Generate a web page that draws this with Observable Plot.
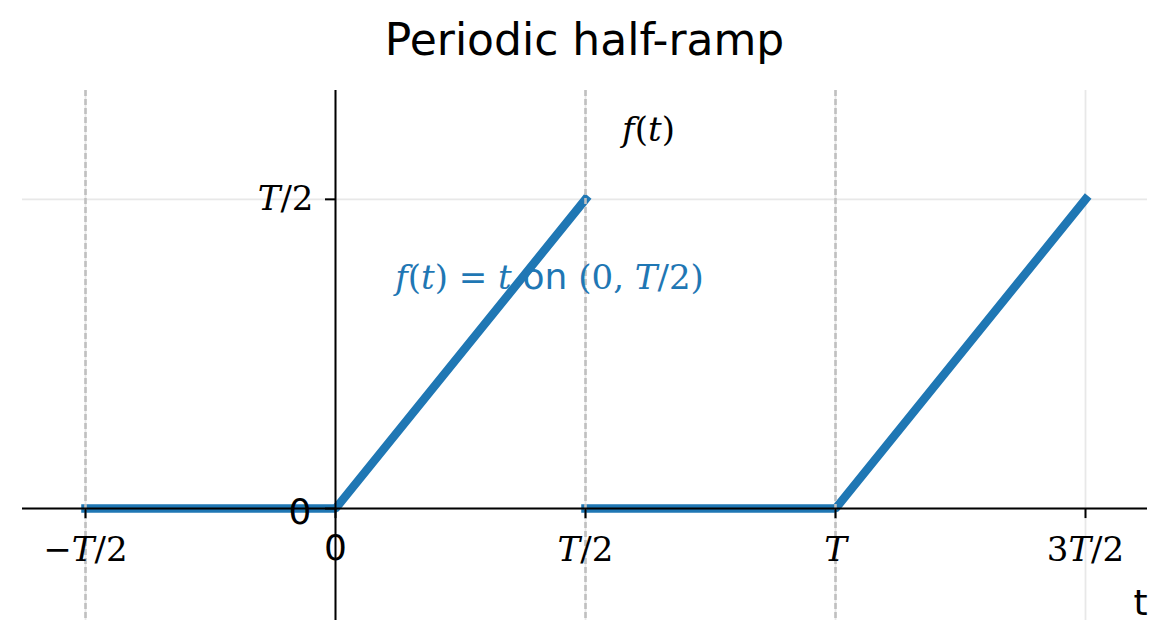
<!DOCTYPE html>
<html><head><meta charset="utf-8">
<script src="https://cdn.jsdelivr.net/npm/d3@7"></script>
<script src="https://cdn.jsdelivr.net/npm/@observablehq/plot@0.6"></script>
<style>
body{margin:0;background:#fff;}
#title{width:1169px;height:80px;line-height:80px;text-align:center;font-family:"DejaVu Sans";font-size:44px;color:#000;}
#chart svg{display:block;}
</style></head><body>
<div id="title">Periodic half-ramp</div>
<div id="chart"></div>
<script>
// Waveform vertices (t in units of T, f in units of T)
const lineT = [-0.5, 0, 0.5, 0.5, 1, 1.5];
const lineF = [0, 0, 0.5, 0, 0, 0.5];
const lineSeg = [0, 0, 0, 1, 1, 1];

const xTicks = [-0.5, 0, 0.5, 1, 1.5];
const xTickLabels = ["−T/2", "0", "T/2", "T", "3T/2"];
const yTicks = [0, 0.5];
const yTickLabels = ["0", "T/2"];
const dashedT = [-0.5, 0.5, 1];

const annoText = ["f(t)", "f(t) = t on (0, T/2)"];
const annoT = [0.626, 0.428];
const annoF = [0.612, 0.372];
const annoColor = ["#000000", "#1f77b4"];

const blue = "#1f77b4";
const lineData = lineT.map((t, i) => ({t, f: lineF[i], seg: lineSeg[i]}));
const xLab = xTicks.map((t, i) => ({t, label: xTickLabels[i]}));
const yLab = yTicks.map((f, i) => ({f, label: yTickLabels[i]}));
const anno = annoText.map((s, i) => ({s, t: annoT[i], f: annoF[i], c: annoColor[i]}));

const mathSet = new Set([...xTickLabels, ...yTickLabels, ...annoText].filter(s => s !== "0"));
const SERIF = "DejaVu Serif";

const plot = Plot.plot({
  width: 1169, height: 562,
  marginLeft: 22, marginRight: 22, marginTop: 10, marginBottom: 22,
  x: {domain: [-0.626, 1.624], axis: null},
  y: {domain: [-0.181, 0.676], axis: null},
  marks: [
    Plot.ruleX(xTicks, {stroke: "#e8e8e8", strokeWidth: 1.8}),
    Plot.ruleY(yTicks, {stroke: "#e8e8e8", strokeWidth: 1.8}),
    Plot.line(lineData, {x: "t", y: "f", z: "seg", stroke: blue, strokeWidth: 8.5, strokeLinecap: "square", strokeLinejoin: "miter"}),
    Plot.ruleX(dashedT, {stroke: "#c0c0c0", strokeWidth: 2.6, strokeDasharray: "6,3"}),
    Plot.ruleX([0], {stroke: "#000", strokeWidth: 2}),
    Plot.ruleY([0], {stroke: "#000", strokeWidth: 2}),
    Plot.ruleX(xTicks, {y1: 0, y2: 0, insetBottom: -10, stroke: "#000", strokeWidth: 2}),
    Plot.ruleY(yTicks, {x1: 0, x2: 0, insetLeft: -10, stroke: "#000", strokeWidth: 2}),
    Plot.text(xLab.filter(d => d.label !== "0"), {x: "t", y: () => 0, text: "label", dy: 42, fontSize: 34, fontFamily: SERIF, fill: "#000"}),
    Plot.text(xLab.filter(d => d.label === "0"), {x: "t", y: () => 0, text: "label", dy: 40, fontSize: 36, fontFamily: "DejaVu Sans", fill: "#000"}),
    Plot.text(yLab.filter(d => d.label !== "0"), {x: () => 0, y: "f", text: "label", dx: -22, textAnchor: "end", fontSize: 34, fontFamily: SERIF, fill: "#000"}),
    Plot.text(yLab.filter(d => d.label === "0"), {x: () => 0, y: "f", text: "label", dx: -24, dy: 4, textAnchor: "end", fontSize: 36, fontFamily: "DejaVu Sans", fill: "#000"}),
    Plot.text(anno, {x: "t", y: "f", text: "s", fill: "c", fontSize: 34, fontFamily: SERIF}),
    Plot.text(["t"], {frameAnchor: "bottom-right", textAnchor: "end", lineAnchor: "bottom", dy: -6, fontSize: 36, fontFamily: "DejaVu Sans", fill: "#000"})
  ]
});
document.getElementById("chart").appendChild(plot);

// Render math-like labels: letters italic serif, digits/punctuation upright serif, the word "on" sans
d3.select(plot).selectAll("text").each(function () {
  const s = this.textContent;
  if (!mathSet.has(s)) return;
  const el = d3.select(this);
  el.text(null);
  const re = /(on)|([A-Za-z])|([^A-Za-z]+)/g;
  let m;
  while ((m = re.exec(s)) !== null) {
    const ts = el.append("tspan").text(m[0]);
    if (m[1]) ts.attr("font-family", "DejaVu Sans").attr("font-style", "normal").attr("font-size", 36);
    else if (m[2]) ts.attr("font-family", SERIF).attr("font-style", "italic").attr("font-weight", 300);
    else ts.attr("font-family", SERIF).attr("font-style", "normal").attr("font-weight", 300);
  }
});
</script>
</body></html>
